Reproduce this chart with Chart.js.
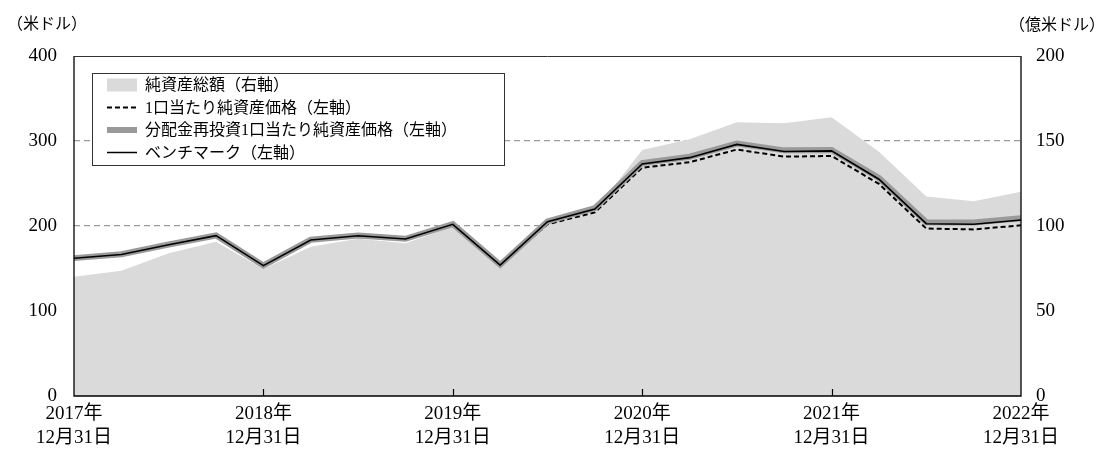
<!DOCTYPE html>
<html><head><meta charset="utf-8">
<script src="https://cdn.jsdelivr.net/npm/chart.js@4.4.0/dist/chart.umd.min.js"></script>
<style>html,body{margin:0;padding:0;background:#fff;}#wrap{width:1107px;height:452px;position:relative;}</style>
</head><body><div id="wrap"><canvas id="c" width="1107" height="452"></canvas></div>
<script>
const quarters = ['2017-12','2018-03','2018-06','2018-09','2018-12','2019-03','2019-06','2019-09','2019-12','2020-03','2020-06','2020-09','2020-12','2021-03','2021-06','2021-09','2021-12','2022-03','2022-06','2022-09','2022-12'];
const yearLabels = ['2017年','2018年','2019年','2020年','2021年','2022年'];
const dayLabel = '12月31日';
const netAssets = [70.2,73.7,83.9,90.8,74.7,87.8,92.5,89.8,99.6,75,101.5,109,144.7,151,161,160.4,163.9,143.7,117.3,114.5,120.2];
const navPerUnit = [161.5,166,177.5,188,152.8,183,188,184,201.3,153.5,202,216,268.6,275,290,281.6,282.4,249.5,197,196,200.8];
const navReinvest = [162.2,166.8,178.3,188.9,153.6,183.8,188.9,185,202.3,154.3,205.5,221,274,281.5,297,289,289.5,256.5,204.5,204,209];
const benchmark = [162,166.5,178,188.6,153.3,183.5,188.6,184.7,202,154,205,220,273,280.4,296,287.6,288.4,255,202.7,202,207];
const leftTicks = [0,100,200,300,400];
const rightTicks = [0,50,100,150,200];
const legendLabels = ['純資産総額（右軸）','1口当たり純資産価格（左軸）','分配金再投資1口当たり純資産価格（左軸）','ベンチマーク（左軸）'];
const leftUnit = '（米ドル）';
const rightUnit = '（億米ドル）';

const FONT = "'Liberation Serif','Noto Sans CJK JP',serif";

const overlay = {
  id:'overlay',
  afterDatasetsDraw(chart){
    const ctx = chart.ctx, a = chart.chartArea, x = chart.scales.x;
    ctx.save();
    ctx.strokeStyle = '#000'; ctx.lineWidth = 1.3; ctx.setLineDash([]);
    ctx.beginPath();
    ctx.moveTo(a.left, a.top); ctx.lineTo(a.left, a.bottom); ctx.lineTo(a.right, a.bottom); ctx.lineTo(a.right, a.top);
    ctx.stroke();
    ctx.strokeStyle = '#333'; ctx.lineWidth = 1;
    ctx.beginPath(); ctx.moveTo(a.left, a.top+0.5); ctx.lineTo(a.right, a.top+0.5); ctx.stroke();
    ctx.strokeStyle = '#000'; ctx.lineWidth = 1.2;
    for (let i = 4; i < quarters.length - 1; i += 4) {
      const px = Math.round(x.getPixelForValue(i)) + 0.5;
      ctx.beginPath(); ctx.moveTo(px, a.bottom); ctx.lineTo(px, a.bottom - 7); ctx.stroke();
    }
    ctx.fillStyle = '#000';
    ctx.font = "16px " + FONT;
    ctx.textBaseline = 'middle';
    ctx.textAlign = 'left'; ctx.fillText(leftUnit, 7, 25);
    ctx.textAlign = 'right'; ctx.fillText(rightUnit, 1105, 26);
    const bx = 92, by = 73, bw = 412, bh = 92;
    ctx.fillStyle = '#fff'; ctx.fillRect(bx, by, bw, bh);
    ctx.strokeStyle = '#333'; ctx.lineWidth = 1; ctx.strokeRect(bx+0.5, by+0.5, bw, bh);
    const rows = [85, 107.5, 130, 152.5];
    const sx0 = 107, sx1 = 137;
    ctx.fillStyle = '#dadada'; ctx.fillRect(sx0, rows[0]-6.5, sx1-sx0, 13);
    ctx.strokeStyle = '#000'; ctx.lineWidth = 2; ctx.setLineDash([5,3]);
    ctx.beginPath(); ctx.moveTo(sx0, rows[1]); ctx.lineTo(sx1, rows[1]); ctx.stroke();
    ctx.setLineDash([]);
    ctx.strokeStyle = '#999'; ctx.lineWidth = 6;
    ctx.beginPath(); ctx.moveTo(sx0, rows[2]); ctx.lineTo(sx1, rows[2]); ctx.stroke();
    ctx.strokeStyle = '#000'; ctx.lineWidth = 1.5;
    ctx.beginPath(); ctx.moveTo(sx0, rows[3]); ctx.lineTo(sx1, rows[3]); ctx.stroke();
    ctx.fillStyle = '#000'; ctx.font = "16px " + FONT; ctx.textAlign = 'left'; ctx.textBaseline = 'middle';
    legendLabels.forEach((t, i) => ctx.fillText(t, 145, rows[i] + 1));
    ctx.restore();
  }
};

new Chart(document.getElementById('c'), {
  type: 'line',
  data: {
    labels: quarters,
    datasets: [
      {label: legendLabels[3], data: benchmark, yAxisID: 'yL', borderColor: '#000', borderWidth: 1.6, pointRadius: 0, fill: false, tension: 0, order: 1},
      {label: legendLabels[1], data: navPerUnit, yAxisID: 'yL', borderColor: '#000', borderWidth: 2, borderDash: [5,3], pointRadius: 0, fill: false, tension: 0, order: 3},
      {label: legendLabels[2], data: navReinvest, yAxisID: 'yL', borderColor: '#9a9a9a', borderWidth: 6, pointRadius: 0, fill: false, tension: 0, order: 2},
      {label: legendLabels[0], data: netAssets, yAxisID: 'yR', borderWidth: 0, borderColor: 'rgba(0,0,0,0)', backgroundColor: '#dadada', pointRadius: 0, fill: 'origin', tension: 0, order: 4}
    ]
  },
  options: {
    responsive: false, animation: false,
    layout: {padding: {top: 56, left: 0, right: 0, bottom: 0}},
    plugins: {legend: {display: false}, tooltip: {enabled: false}},
    scales: {
      x: {
        type: 'category', offset: false,
        grid: {display: false, drawTicks: false},
        border: {display: false},
        afterFit(s){ s.height = 56; },
        ticks: {
          autoSkip: false, maxRotation: 0, padding: 6, color: '#000',
          font: {family: FONT, size: 19, lineHeight: 1.25},
          callback(v, i){ return i % 4 === 0 ? [yearLabels[i/4], dayLabel] : ''; }
        }
      },
      yL: {
        type: 'linear', position: 'left', min: 0, max: 400,
        afterFit(s){ s.width = 74; },
        afterBuildTicks(s){ s.ticks = leftTicks.map(v => ({value: v})); },
        grid: {drawTicks: false, color: (c) => (c.tick && (c.tick.value === 0 || c.tick.value === 400)) ? 'rgba(0,0,0,0)' : '#9a9a9a', lineWidth: 1.2},
        border: {display: false, dash: [6,4]},
        ticks: {padding: 17, color: '#000', font: {family: FONT, size: 19}}
      },
      yR: {
        type: 'linear', position: 'right', min: 0, max: 200,
        afterFit(s){ s.width = 86; },
        afterBuildTicks(s){ s.ticks = rightTicks.map(v => ({value: v})); },
        grid: {display: false, drawTicks: false},
        border: {display: false},
        ticks: {padding: 15, color: '#000', font: {family: FONT, size: 19}}
      }
    }
  },
  plugins: [overlay]
});
</script></body></html>
